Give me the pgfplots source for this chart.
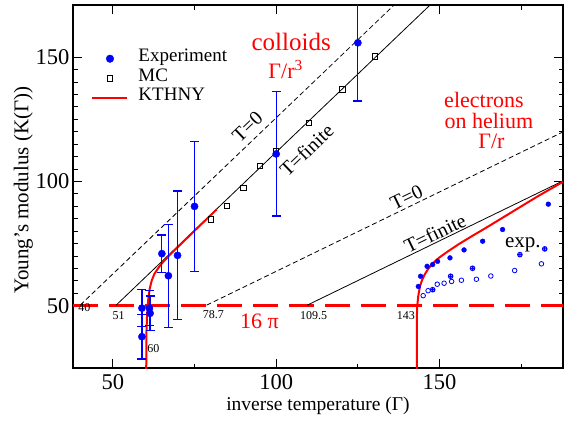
\documentclass[border=0pt]{standalone}
\usepackage{fontspec}
\setmainfont{Liberation Serif}
\usepackage{pgfplots}
\pgfplotsset{compat=1.18}
\usepackage{pgfplotstable}

\pgfplotstableread{
x y e
58.9 49.1 7.5
58.9 37.6 9
61.2 49.1 7
61.4 47.0 7
65.0 71.0 7.5
67.0 62.1 20.7
69.8 70.3 25.9
75.0 90.0 26.1
100.0 111.1 25
125.0 155.8 23.4
}\colexp

\pgfplotstableread{
x y
80 84.7
85 90.1
90 97.4
95 106.3
100 112.2
110 123.5
120.3 137
130.2 150.2
}\mcdata

\pgfplotstableread{
x y
60.2 22
60.3 40
60.5 47
60.7 50.3
60.9 53.5
61.3 57.0
61.9 60.2
62.7 62.8
63.8 65.0
65.0 67.1
67.0 69.9
70.0 73.8
75.0 80.2
81.8 88.8
}\ktcol

\pgfplotstableread{
x y
143.1 22
143.1 40
143.1 47
143.2 50.3
143.5 54.0
144.0 57.8
144.7 60.5
145.5 62.7
146.5 64.8
148.0 67.2
150.0 69.5
153.0 72.3
156.0 74.9
160.0 78.1
164.0 81.2
169.0 85.2
174.0 89.2
180.0 94.0
187.8 99.9
}\ktel

\begin{document}
\begin{tikzpicture}
\begin{axis}[
  at={(0,0)}, anchor=south west,
  scale only axis, width=490pt, height=363pt,
  xmin=37.8, xmax=187.8, ymin=25, ymax=171,
  xtick={50,100,150}, minor xtick={75,125,175},
  ytick={50,100,150}, minor y tick num=9,
  tick align=inside, major tick length=9pt, minor tick length=4.5pt,
  axis line style={line width=1.2pt},
  every tick/.append style={black, line width=1pt},
  /pgf/number format/assume math mode=true,
  ticklabel style={font=\fontsize{22.5}{22.5}\selectfont},
  xticklabel style={anchor=north, inner sep=0pt, yshift=-6.5pt},
  yticklabel style={anchor=east, inner sep=0pt, xshift=-3.5pt},
  xlabel={inverse temperature (Γ)},
  ylabel={Young’s modulus (K(Γ))},
  xlabel style={font=\fontsize{19.5}{19.5}\selectfont, at={(axis description cs:0.5,0)}, anchor=base, yshift=-42pt},
  ylabel style={font=\fontsize{21}{21}\selectfont, at={(axis description cs:0,0.49)}, anchor=base, yshift=44.5pt},
  legend style={draw=none, fill=none, at={(axis cs:43.4,153.2)}, anchor=north west,
    font=\fontsize{19}{19}\selectfont, inner sep=0pt, row sep=1pt, column sep=10pt,
    nodes={inner sep=0pt, text height=12.5pt, text depth=6pt}},
  legend cell align=left,
  legend image code/.code={\draw[mark repeat=2,mark phase=2,#1] plot coordinates {(0pt,0pt) (17.5pt,0pt) (35pt,0pt)};},
]
% legend images
\addlegendimage{only marks, mark=*, blue, mark size=3.8pt}
\addlegendentry{Experiment}
\addlegendimage{only marks, mark=square, black, mark size=2.8pt, line width=1pt}
\addlegendentry{MC}
\addlegendimage{red, line width=2pt}
\addlegendentry{KTHNY}

% 16 pi line
\addplot[red, line width=3pt, dash pattern=on 25pt off 11pt, forget plot] coordinates {(37.8,50.27) (187.8,50.27)};

% colloids reference lines
\addplot[black, line width=0.8pt, dash pattern=on 5pt off 3pt, forget plot] coordinates {(40,50.27) (137.7,173)};
\addplot[black, line width=0.8pt, forget plot] coordinates {(51,50.27) (148.7,173)};
% electrons reference lines
\addplot[black, line width=0.8pt, dash pattern=on 5pt off 3pt, forget plot] coordinates {(78.7,50.27) (187.8,119.95)};
\addplot[black, line width=0.8pt, forget plot] coordinates {(109.5,50.27) (187.8,100.28)};

% KTHNY
\addplot[red, line width=2pt, line join=round, forget plot] table {\ktcol};
\addplot[red, line width=2pt, line join=round, forget plot] table {\ktel};

% MC
\addplot[only marks, mark=square, black, mark size=2.8pt, line width=1pt, forget plot] table {\mcdata};

% colloid experiment
\addplot[only marks, mark=*, blue, mark size=3.6pt, forget plot,
  error bars/.cd, y dir=both, y explicit,
  error bar style={blue, line width=1.2pt},
  error mark options={rotate=90, blue, mark size=4.5pt, line width=1.2pt}]
  table[x=x, y=y, y error=e] {\colexp};

% electrons experiment
\addplot[only marks, mark=o, blue, mark size=2.3pt, line width=0.8pt, forget plot] coordinates {
(145,54.1) (146.5,56.1) (149.3,58.7) (151.4,59.1) (153.7,59.8) (156.7,60.3) (161.3,60.7) (165.7,62) (173,64.2) (181.2,66.9)};
\addplot[only marks, mark=oplus, blue, mark size=2.3pt, line width=1pt, forget plot] coordinates {
(147.9,56.5) (153.4,61.9) (160.1,65.1) (174.6,70.6) (182.2,72.9)};
\addplot[only marks, mark=*, blue, mark size=2.4pt, forget plot] coordinates {
(143.5,57.8) (144.2,61.9) (146.2,65.9) (147.9,66.6) (149.4,67.9) (153.2,69.3) (157.5,72.5) (163.2,76.0) (169.3,80.7) (183.3,90.9)};

% texts
\node[red, font=\fontsize{25}{25}\selectfont] at (axis cs:104.6,156.1) {colloids};
\node[red, font=\fontsize{22}{22}\selectfont] at (axis cs:102.9,145) {Γ/r\textsuperscript{3}};
\node[red, font=\fontsize{22}{22}\selectfont] at (axis cs:163.6,132.8) {electrons};
\node[red, font=\fontsize{22}{22}\selectfont] at (axis cs:165.1,124.3) {on helium};
\node[red, font=\fontsize{22}{22}\selectfont] at (axis cs:165.9,116) {Γ/r};
\node[red, font=\fontsize{22}{22}\selectfont, anchor=base west, inner sep=0pt] at (axis cs:88.9,41) {16 π};
\node[font=\fontsize{21}{21}\selectfont, anchor=base west, inner sep=0pt] at (axis cs:170,73.5) {exp.};

\node[font=\fontsize{20}{20}\selectfont, rotate=43.7] at (axis cs:91.2,122) {T=0};
\node[font=\fontsize{20}{20}\selectfont, rotate=43.7] at (axis cs:109.3,112.6) {T=finite};
\node[font=\fontsize{20}{20}\selectfont, rotate=25.9] at (axis cs:139.9,93.6) {T=0};
\node[font=\fontsize{20}{20}\selectfont, rotate=25.9] at (axis cs:148.6,79.2) {T=finite};

\node[font=\fontsize{12}{12}\selectfont, anchor=base west, inner sep=0pt] at (axis cs:39.4,47.9) {40};
\node[font=\fontsize{12}{12}\selectfont, anchor=base west, inner sep=0pt] at (axis cs:49.9,44.5) {51};
\node[font=\fontsize{12}{12}\selectfont, anchor=base west, inner sep=0pt] at (axis cs:60.5,31.1) {60};
\node[font=\fontsize{12}{12}\selectfont, anchor=base west, inner sep=0pt] at (axis cs:77.5,45.0) {78.7};
\node[font=\fontsize{12}{12}\selectfont, anchor=base west, inner sep=0pt] at (axis cs:107.3,44.6) {109.5};
\node[font=\fontsize{12}{12}\selectfont, anchor=base west, inner sep=0pt] at (axis cs:136.9,44.6) {143};
\end{axis}
\pgfresetboundingbox
\path[use as bounding box] (-73pt,-53pt) rectangle (491pt,368pt);
\end{tikzpicture}
\end{document}
